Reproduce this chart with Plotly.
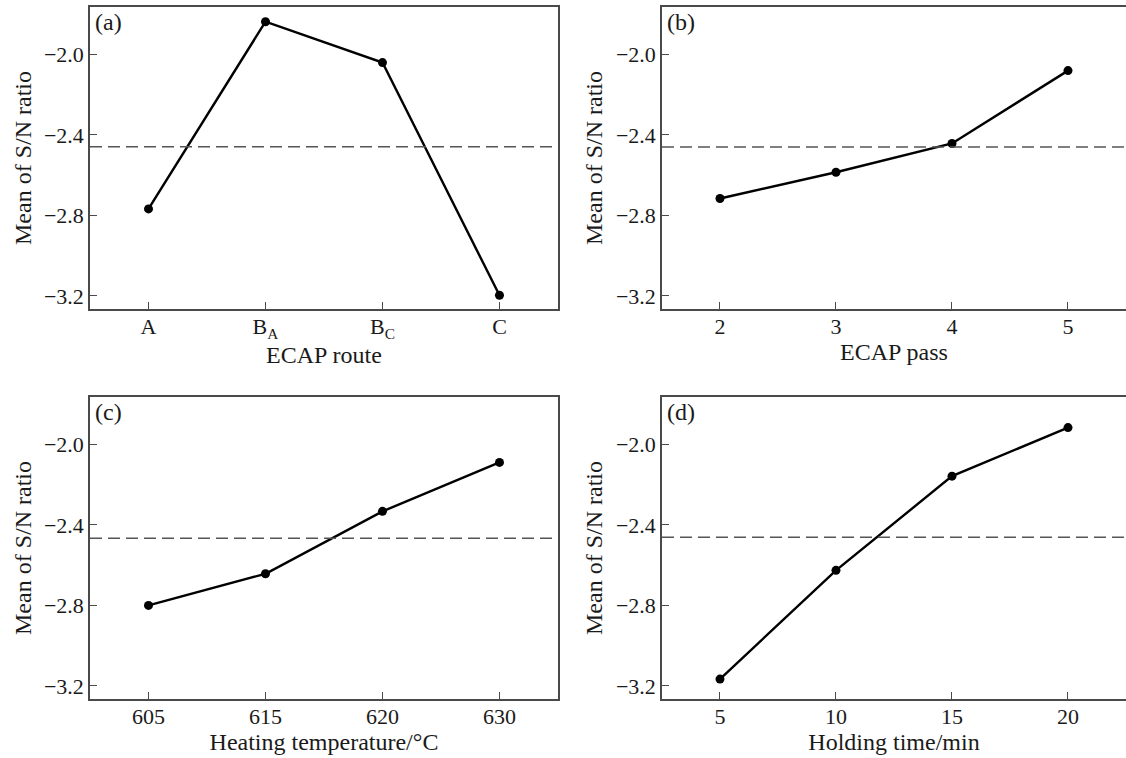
import plotly.graph_objects as go

# ---- data ----
route_cats = ["A", "BA", "BC", "C"]
route_ticktext = ["A", "B<sub>A</sub>", "B<sub>C</sub>", "C"]
route_sn = [-2.768, -1.838, -2.041, -3.197]

passes = [2, 3, 4, 5]
pass_sn = [-2.716, -2.586, -2.443, -2.081]

temps = ["605", "615", "620", "630"]
temp_sn = [-2.800, -2.643, -2.333, -2.090]

times = [5, 10, 15, 20]
time_sn = [-3.166, -2.626, -2.158, -1.917]

grand_mean = [-2.459, -2.461, -2.467, -2.462]

panel_labels = ["(a)", "(b)", "(c)", "(d)"]
x_titles = ["ECAP route", "ECAP pass", "Heating temperature/°C", "Holding time/min"]
y_title = "Mean of S/N ratio"
y_ticks = [-3.2, -2.8, -2.4, -2.0]

FONT = "Liberation Serif"
TXT = "#1a1a1a"
AX = "#4a4a4a"
TICK_SIZE = 22
TITLE_SIZE = 24

fig = go.Figure()

series = [
    (route_cats, route_sn, "x", "y"),
    (passes, pass_sn, "x2", "y2"),
    (temps, temp_sn, "x3", "y3"),
    (times, time_sn, "x4", "y4"),
]
for xs, ys, xa, ya in series:
    fig.add_trace(go.Scatter(
        x=xs, y=ys, xaxis=xa, yaxis=ya, mode="lines+markers",
        line=dict(color="#000000", width=2.4),
        marker=dict(color="#000000", size=9),
        showlegend=False, cliponaxis=False,
    ))

# plot area: x 90..1126, y 7..699
dom_x = [[0, 0.4517], [0.5521, 1.0], [0, 0.4517], [0.5521, 1.0]]
dom_y = [[0.5636, 1.0], [0.5636, 1.0], [0, 0.4364], [0, 0.4364]]

x_ranges = [[-0.5, 3.5], [1.5, 5.5], [-0.5, 3.5], [2.5, 22.5]]
# right-hand panels are cut off at the image edge (no right frame line)
y_mirror = [True, False, True, False]

layout = dict(
    width=1126, height=758,
    margin=dict(l=90, r=0, t=7, b=59),
    paper_bgcolor="white", plot_bgcolor="white",
    font=dict(family=FONT, size=TICK_SIZE, color=TXT),
)

for i in range(4):
    sx = "" if i == 0 else str(i + 1)
    xa = dict(
        domain=dom_x[i], anchor="y" + sx, range=x_ranges[i],
        showline=True, linecolor=AX, linewidth=1.5, mirror=True,
        ticks="inside", ticklen=7, tickwidth=1.2, tickcolor=AX,
        showgrid=False, zeroline=False, ticklabelstandoff=-3,
        tickfont=dict(family=FONT, size=TICK_SIZE, color=TXT),
        title=dict(text=x_titles[i], font=dict(family=FONT, size=TITLE_SIZE, color=TXT), standoff=0),
    )
    if i == 0:
        xa.update(type="category", categoryorder="array", categoryarray=route_cats,
                  tickvals=route_cats, ticktext=route_ticktext)
    elif i == 2:
        xa.update(type="category", categoryorder="array", categoryarray=temps)
    else:
        xa.update(tickvals=series[i][0])
    ya = dict(
        domain=dom_y[i], anchor="x" + sx, range=[-3.265, -1.765],
        showline=True, linecolor=AX, linewidth=1.5, mirror=y_mirror[i],
        ticks="inside", ticklen=7, tickwidth=1.2, tickcolor=AX,
        showgrid=False, zeroline=False,
        tickvals=y_ticks, tickformat=".1f",
        tickfont=dict(family=FONT, size=TICK_SIZE, color=TXT),
        title=dict(text=y_title, font=dict(family=FONT, size=TITLE_SIZE, color=TXT), standoff=6),
    )
    layout["xaxis" + sx] = xa
    layout["yaxis" + sx] = ya

fig.update_layout(**layout)

for i in range(4):
    sx = "" if i == 0 else str(i + 1)
    fig.add_shape(type="line", xref="x" + sx + " domain", yref="y" + sx,
                  x0=0, x1=1, y0=grand_mean[i], y1=grand_mean[i],
                  line=dict(color="#555555", width=1.5, dash="12px,6px"))
    fig.add_annotation(text=panel_labels[i], xref="x" + sx + " domain", yref="y" + sx + " domain",
                       x=0, y=1, xanchor="left", yanchor="top", xshift=3, yshift=0,
                       showarrow=False, font=dict(family=FONT, size=TITLE_SIZE, color=TXT))

fig.write_html("out.html")
